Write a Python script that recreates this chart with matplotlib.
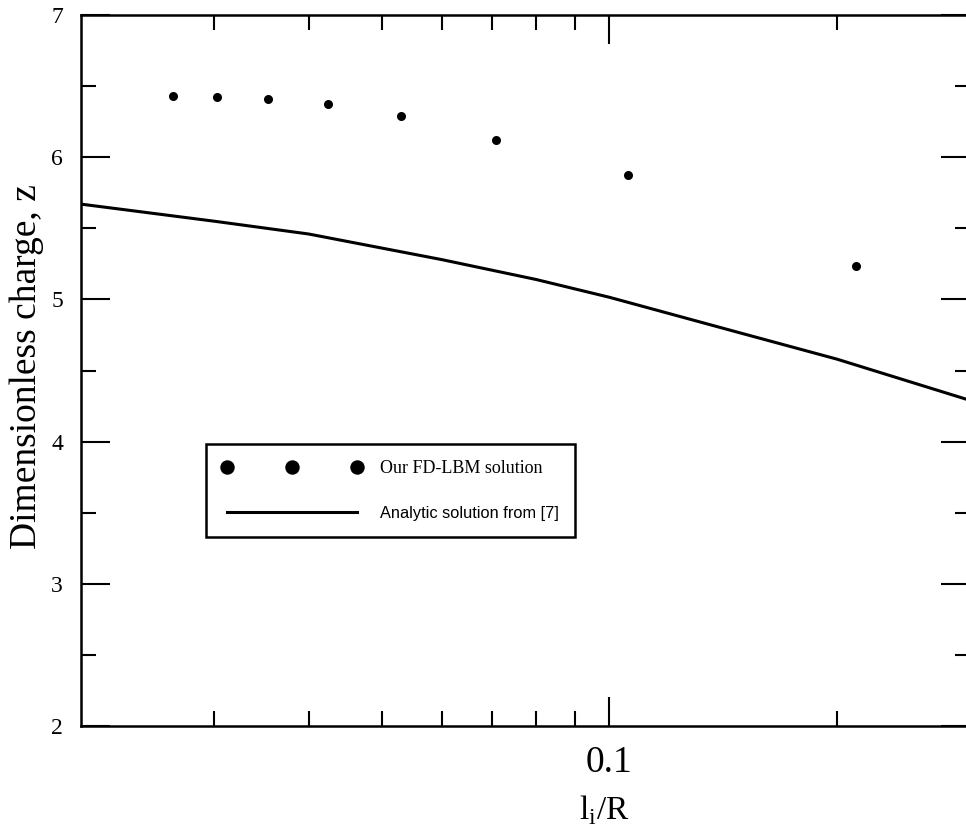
import matplotlib
matplotlib.use("Agg")
import matplotlib.pyplot as plt
from matplotlib.ticker import FixedLocator, NullFormatter, MultipleLocator

# FD-LBM results, l_i/R vs z
lbm_x = [0.0265, 0.0303, 0.0353, 0.0424, 0.053, 0.0707, 0.106, 0.212]
lbm_z = [6.43, 6.426, 6.408, 6.372, 6.288, 6.123, 5.875, 5.233]

# analytic curve from [7]
ana_x = [0.02, 0.03, 0.04, 0.06, 0.08, 0.1, 0.15, 0.2, 0.3]
ana_z = [5.67, 5.55, 5.46, 5.28, 5.14, 5.015, 4.76, 4.58, 4.29]

major_x = [0.1]
minor_x = [0.03, 0.04, 0.05, 0.06, 0.07, 0.08, 0.09, 0.2, 0.3]

serif = "Liberation Serif"
sans = "Liberation Sans"

fig = plt.figure(figsize=(9.66, 8.33), dpi=100)
ax = fig.add_axes([81 / 966, 107 / 833, 889 / 966, 711 / 833])

ax.plot(lbm_x, lbm_z, "o", color="black", markersize=6.5, markeredgewidth=0,
        label="Our FD-LBM solution")
ax.plot(ana_x, ana_z, "-", color="black", linewidth=2.2,
        label="Analytic solution from [7]")

ax.set_xscale("log")
ax.set_xlim(0.02, 0.3)
ax.set_ylim(2, 7)

ax.xaxis.set_major_locator(FixedLocator(major_x))
ax.xaxis.set_minor_locator(FixedLocator(minor_x))
ax.xaxis.set_major_formatter(lambda v, p: "0.1")
ax.xaxis.set_minor_formatter(NullFormatter())
ax.yaxis.set_major_locator(MultipleLocator(1))
ax.yaxis.set_minor_locator(MultipleLocator(0.5))

for s in ax.spines.values():
    s.set_linewidth(1.8)

ax.tick_params(which="both", direction="in", top=True, right=True, width=1.5)
ax.tick_params(which="major", length=21)
ax.tick_params(which="minor", length=11)
ax.tick_params(axis="y", which="major", pad=13, labelsize=17)
ax.tick_params(axis="x", which="major", pad=14, labelsize=27)
for lab in ax.get_xticklabels() + ax.get_yticklabels():
    lab.set_fontfamily(serif)

ax.set_xlabel(r"l$_\mathregular{i}$/R", fontfamily=serif, fontsize=24, va="top")
ax.xaxis.set_label_coords(0.589, -0.095)
ax.set_ylabel("Dimensionless charge, z", fontfamily=serif, fontsize=27, va="center")
ax.yaxis.set_label_coords(-0.061, 0.505)

leg = ax.legend(loc="upper left", bbox_to_anchor=(0.1406, 0.3967), numpoints=3,
                markerscale=1.6, handlelength=7.75, handletextpad=1.0,
                borderpad=0.89, labelspacing=1.58, borderaxespad=0,
                fancybox=False, framealpha=1, edgecolor="black",
                prop={"family": serif, "size": 13})
leg.get_frame().set_linewidth(1.8)
leg.get_texts()[1].set_fontfamily(sans)
leg.get_texts()[1].set_fontsize(11.8)

fig.savefig("out.png", dpi=100)
